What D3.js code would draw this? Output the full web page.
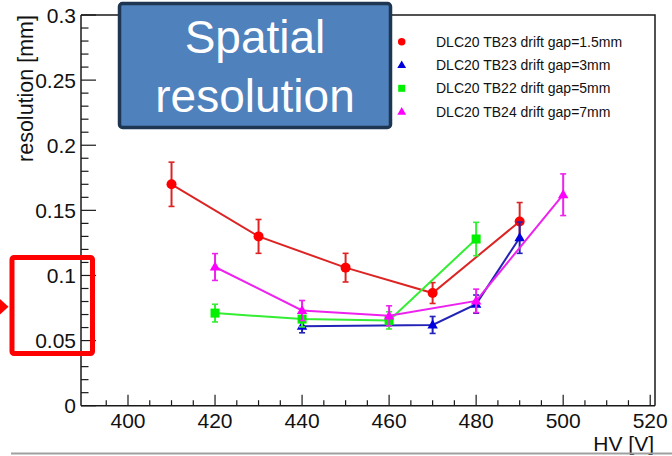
<!DOCTYPE html>
<html>
<head>
<meta charset="utf-8">
<script src="https://cdn.jsdelivr.net/npm/d3@7"></script>
<style>
  html, body { margin: 0; padding: 0; background: #fff; }
  svg { display: block; font-family: "Liberation Sans", Arial, Helvetica, sans-serif; }
</style>
</head>
<body>
<svg id="chart" width="672" height="456"></svg>
<script>
// HV scan: resolution vs high voltage for four drift gaps
const hvGap15 = [410, 430, 450, 470, 490];
const resGap15 = [0.170, 0.130, 0.106, 0.0865, 0.1415];
const errGap15 = [0.017, 0.013, 0.011, 0.008, 0.0145];

const hvGap3 = [440, 470, 480, 490];
const resGap3 = [0.061, 0.062, 0.078, 0.129];
const errGap3 = [0.005, 0.0065, 0.007, 0.012];

const hvGap5 = [420, 440, 460, 480];
const resGap5 = [0.0711, 0.0665, 0.0655, 0.128];
const errGap5 = [0.0068, 0.006, 0.0066, 0.0128];

const hvGap7 = [420, 440, 460, 480, 500];
const resGap7 = [0.1065, 0.0731, 0.069, 0.0805, 0.162];
const errGap7 = [0.0103, 0.0077, 0.0077, 0.009, 0.016];

const seriesLabels = [
  "DLC20 TB23 drift gap=1.5mm",
  "DLC20 TB23 drift gap=3mm",
  "DLC20 TB22 drift gap=5mm",
  "DLC20 TB24 drift gap=7mm"
];
const xTickValues = [400, 420, 440, 460, 480, 500, 520];
const yTickValues = [0, 0.05, 0.1, 0.15, 0.2, 0.25, 0.3];
const yTickLabels = ["0", "0.05", "0.1", "0.15", "0.2", "0.25", "0.3"];

const series = [
  { hv: hvGap15, res: resGap15, err: errGap15, label: seriesLabels[0], line: "#dd2424", mark: "#ff0000", shape: "circle" },
  { hv: hvGap3,  res: resGap3,  err: errGap3,  label: seriesLabels[1], line: "#2323b8", mark: "#0000dd", shape: "triangle" },
  { hv: hvGap5,  res: resGap5,  err: errGap5,  label: seriesLabels[2], line: "#33ee33", mark: "#00f000", shape: "square" },
  { hv: hvGap7,  res: resGap7,  err: errGap7,  label: seriesLabels[3], line: "#ee22ee", mark: "#ff00ff", shape: "triangle" }
];

const svg = d3.select("#chart");
const plotLeft = 81, plotRight = 655, plotTop = 15, plotBottom = 405.7;

const x = d3.scaleLinear().domain([389.2, 521.1]).range([plotLeft, plotRight]);
const y = d3.scaleLinear().domain([0, 0.3]).range([plotBottom, plotTop]);

// frame (top and right edges)
svg.append("path")
  .attr("d", `M${plotLeft},${plotTop}H${plotRight}V${plotBottom}`)
  .attr("fill", "none").attr("stroke", "#1a1a1a").attr("stroke-width", 1.5);

// x axis: major every 20 V, minor every 5 V, ticks pointing up
const xAxis = svg.append("g").attr("transform", `translate(0,${plotBottom})`);
xAxis.append("line").attr("x1", plotLeft).attr("x2", plotRight).attr("stroke", "#1a1a1a").attr("stroke-width", 1.5);
const xMinor = d3.range(395, 521, 5).filter(v => !xTickValues.includes(v));
xAxis.selectAll("line.minor").data(xMinor).join("line").attr("class", "minor")
  .attr("x1", d => x(d)).attr("x2", d => x(d)).attr("y1", 0).attr("y2", -5.5)
  .attr("stroke", "#1a1a1a").attr("stroke-width", 1.2);
xAxis.selectAll("line.major").data(xTickValues).join("line").attr("class", "major")
  .attr("x1", d => x(d)).attr("x2", d => x(d)).attr("y1", 0).attr("y2", -11)
  .attr("stroke", "#1a1a1a").attr("stroke-width", 1.2);
xAxis.selectAll("text").data(xTickValues).join("text")
  .attr("x", d => x(d)).attr("y", 22).attr("text-anchor", "middle")
  .attr("font-size", 21).attr("fill", "#111").text(d => d);

// y axis: major every 0.05, minor every 0.01, ticks pointing right
const yAxis = svg.append("g").attr("transform", `translate(${plotLeft},0)`);
yAxis.append("line").attr("y1", plotTop).attr("y2", plotBottom).attr("stroke", "#1a1a1a").attr("stroke-width", 1.5);
const yMinor = d3.range(1, 30).map(i => i / 100).filter(v => Math.round(v * 100) % 5 !== 0);
yAxis.selectAll("line.minor").data(yMinor).join("line").attr("class", "minor")
  .attr("y1", d => y(d)).attr("y2", d => y(d)).attr("x1", 0).attr("x2", 7.5)
  .attr("stroke", "#1a1a1a").attr("stroke-width", 1.2);
yAxis.selectAll("line.major").data(yTickValues).join("line").attr("class", "major")
  .attr("y1", d => y(d)).attr("y2", d => y(d)).attr("x1", 0).attr("x2", 15)
  .attr("stroke", "#1a1a1a").attr("stroke-width", 1.2);
yAxis.selectAll("text").data(yTickValues).join("text")
  .attr("x", -5).attr("y", d => y(d)).attr("dy", "0.36em").attr("text-anchor", "end")
  .attr("font-size", 21).attr("fill", "#111").text((d, i) => yTickLabels[i]);

// axis titles
svg.append("text").attr("transform", `translate(33,${plotTop}) rotate(-90)`)
  .attr("text-anchor", "end").attr("font-size", 21.5).attr("fill", "#111").text("resolution [mm]");
svg.append("text").attr("x", 654).attr("y", 451).attr("text-anchor", "end")
  .attr("font-size", 21).attr("fill", "#111").text("HV [V]");

// marker drawing helper
function marker(g, shape, color, size) {
  if (shape === "circle") {
    g.append("circle").attr("r", size / 2).attr("fill", color);
  } else if (shape === "square") {
    g.append("rect").attr("x", -size / 2).attr("y", -size / 2).attr("width", size).attr("height", size).attr("fill", color);
  } else {
    const h = size * 0.95, w = size * 0.55;
    g.append("path").attr("d", `M0,${-h * 0.6}L${w},${h * 0.4}L${-w},${h * 0.4}Z`).attr("fill", color);
  }
}

// series: error bars, connecting line, markers
const line = d3.line().x(d => x(d.hv)).y(d => y(d.res));
series.forEach(s => {
  const pts = s.hv.map((h, i) => ({ hv: h, res: s.res[i], err: s.err[i] }));
  const g = svg.append("g");
  g.append("path").datum(pts).attr("d", line)
    .attr("fill", "none").attr("stroke", s.line).attr("stroke-width", 2);
  const eb = g.selectAll("g.err").data(pts).join("g").attr("class", "err");
  eb.append("line").attr("x1", d => x(d.hv)).attr("x2", d => x(d.hv))
    .attr("y1", d => y(d.res - d.err)).attr("y2", d => y(d.res + d.err))
    .attr("stroke", s.line).attr("stroke-width", 2);
  [1, -1].forEach(sign => {
    eb.append("line").attr("x1", d => x(d.hv) - 3).attr("x2", d => x(d.hv) + 3)
      .attr("y1", d => y(d.res + sign * d.err)).attr("y2", d => y(d.res + sign * d.err))
      .attr("stroke", s.line).attr("stroke-width", 1.6);
  });
  pts.forEach(d => {
    const m = g.append("g").attr("transform", `translate(${x(d.hv)},${y(d.res)})`);
    marker(m, s.shape, s.mark, s.shape === "circle" ? 10 : (s.shape === "square" ? 9 : 9.5));
  });
});

// legend
const legend = svg.append("g");
series.forEach((s, i) => {
  const cy = 41.7 + i * 23.3;
  const m = legend.append("g").attr("transform", `translate(401.7,${cy})`);
  marker(m, s.shape, s.mark, s.shape === "circle" ? 7.5 : (s.shape === "square" ? 7 : 8));
  legend.append("text").attr("x", 436).attr("y", cy).attr("dy", "0.36em")
    .attr("font-size", 14).attr("fill", "#111").text(s.label);
});

// title box
svg.append("rect").attr("x", 119.5).attr("y", 3.5).attr("width", 271).attr("height", 124)
  .attr("rx", 3).attr("fill", "#4f81bd").attr("stroke", "#1f3652").attr("stroke-width", 3.5);
svg.append("text").attr("x", 255).attr("y", 53).attr("text-anchor", "middle")
  .attr("font-size", 46).attr("fill", "#fff").text("Spatial");
svg.append("text").attr("x", 255).attr("y", 112).attr("text-anchor", "middle")
  .attr("font-size", 46).attr("fill", "#fff").text("resolution");

// highlight box with pointer on the low-resolution range
svg.append("rect").attr("x", 12).attr("y", 257.5).attr("width", 80.5).attr("height", 96)
  .attr("rx", 2).attr("fill", "none").attr("stroke", "#ff0000").attr("stroke-width", 5);
svg.append("path").attr("d", "M0,299L8.5,306.7L0,314.4Z").attr("fill", "#ff0000");

// separator line under the chart
svg.append("line").attr("x1", 11).attr("x2", 672).attr("y1", 453.5).attr("y2", 453.5)
  .attr("stroke", "#a0a0a0").attr("stroke-width", 2);
</script>
</body>
</html>
